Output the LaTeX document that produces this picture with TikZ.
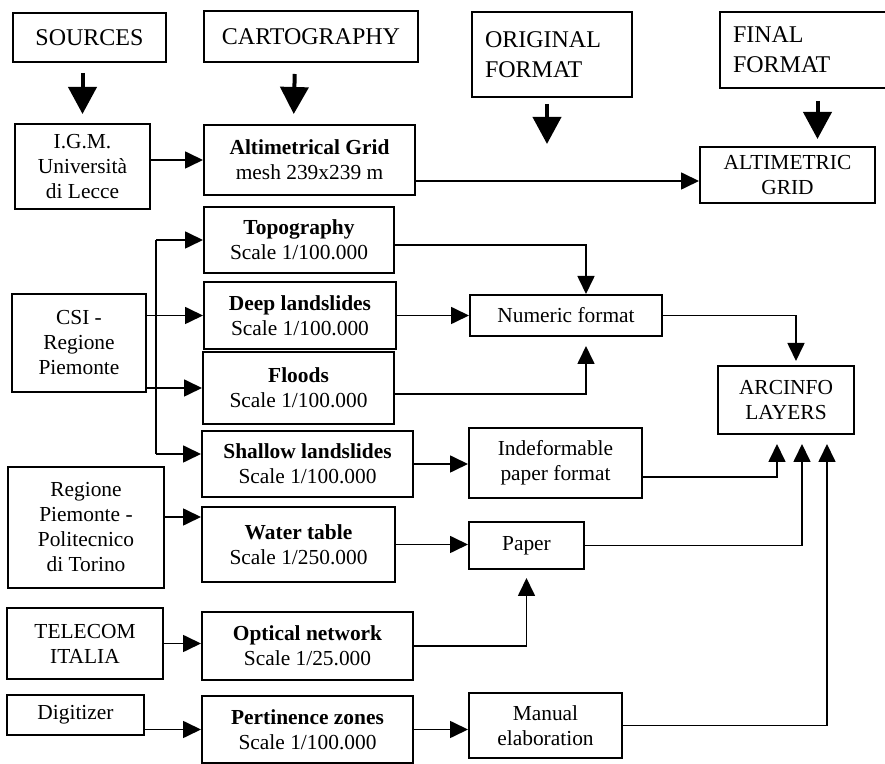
\documentclass[tikz,border=0pt]{standalone}
\usepackage{fontspec}
\setmainfont{Liberation Serif}
\usetikzlibrary{positioning,arrows.meta}
\tikzset{
    flow box/.style={
        rectangle,
        draw,
        line width=1pt,
        inner sep=0pt,
        align=center,
        font=\fontsize{10.7}{12.5}\selectfont,
    },
    head box/.style={flow box, font=\fontsize{12}{15}\selectfont},
    head box left/.style={head box, align=left, inner xsep=6.5pt, text width=#1},
    box size/.style 2 args={minimum width=#1*0.5pt, minimum height=#2*0.5pt},
    flow/.style={line width=0.85pt, -{Triangle[length=9pt,width=8.5pt]}},
    fat flow/.style={line width=2pt, -{Triangle[length=13.5pt,width=14pt]}}
}

\begin{document}
\begin{tikzpicture}[x=0.5pt, y=-0.5pt]
\useasboundingbox (0,0) rectangle (885,764);

%Column headers
\node[head box, box size={153}{49}] (sources) at (89.5,37.5) {SOURCES};
\node[head box, box size={214}{51}] (carto) at (311,36.5) {CARTOGRAPHY};
\node[head box left=67pt, box size={160}{85}] (orig) at (552,54.5) {ORIGINAL\\FORMAT};
\node[head box left=72.5pt, box size={169}{76}] (final) at (805.5,50) {FINAL\\FORMAT};

%Sources
\node[flow box, box size={135}{85}] (igm) at (82.5,166.5) {I.G.M.\\Università\\di Lecce};
\node[flow box, box size={134}{98}] (csi) at (79,343) {CSI -\\Regione\\Piemonte};
\node[flow box, box size={156}{121}] (regione) at (86,527.5) {Regione\\Piemonte -\\Politecnico\\di Torino};
\node[flow box, box size={156}{71}] (telecom) at (85,643.5) {TELECOM\\ITALIA};
\node[flow box, box size={137}{40}] (digit) at (75.5,715) {Digitizer};

%Cartography
\node[flow box, box size={211}{70}] (altgrid) at (309.5,160) {\textbf{Altimetrical Grid}\\mesh 239x239 m};
\node[flow box, box size={190}{66}] (topo) at (299,240) {\textbf{Topography}\\Scale 1/100.000};
\node[flow box, box size={192}{67}] (deep) at (300,315.5) {\textbf{Deep landslides}\\Scale 1/100.000};
\node[flow box, box size={191}{72}] (floods) at (298.5,388) {\textbf{Floods}\\Scale 1/100.000};
\node[flow box, box size={211}{66}] (shallow) at (307.5,464) {\textbf{Shallow landslides}\\Scale 1/100.000};
\node[flow box, box size={193}{75}] (water) at (298.5,544.5) {\textbf{Water table}\\Scale 1/250.000};
\node[flow box, box size={211}{68}] (optical) at (307.5,646) {\textbf{Optical network}\\Scale 1/25.000};
\node[flow box, box size={211}{67}] (pert) at (307.5,729.5) {\textbf{Pertinence zones}\\Scale 1/100.000};

%Formats
\node[flow box, box size={192}{41}] (numeric) at (566,315.5) {Numeric format};
\node[flow box, box size={173}{70}] (indef) at (555.5,463) {Indeformable\\paper format};
\node[flow box, box size={115}{47}] (paper) at (526.5,545.5) {Paper};
\node[flow box, box size={153}{65}] (manual) at (545.5,725.5) {Manual\\elaboration};
\node[flow box, box size={175}{56}] (altimetric) at (787.5,175) {ALTIMETRIC\\GRID};
\node[flow box, box size={136}{68}] (arcinfo) at (786,400) {ARCINFO\\LAYERS};

%Header arrows
\draw[fat flow, shorten <=5pt, shorten >=4.5pt] (sources.south -| igm.north) -- (igm.north);
\draw[fat flow, shorten <=5.5pt, shorten >=5pt] ([xshift=-8pt]carto.south) -- ([xshift=-8pt]altgrid.north);
\coordinate (orig-tip) at ([xshift=-2.5pt,yshift=-23pt]orig.south);
\draw[fat flow, shorten <=3pt] (orig.south -| orig-tip) -- (orig-tip);
\coordinate (final-in) at ([xshift=15pt]altimetric.north);
\draw[fat flow, shorten <=6pt, shorten >=3.5pt] (final.south -| final-in) -- (final-in);

%Sources to cartography
\draw[flow] (igm.east |- altgrid.west) -- (altgrid.west);
\coordinate (trunk) at ([xshift=4.5pt]csi.east);
\coordinate (shallow-in) at ([yshift=5pt]shallow.west);
\draw[line width=0.85pt] (trunk |- topo.west) -- (trunk |- shallow-in);
\draw[flow] (trunk |- topo.west) -- (topo.west);
\draw[flow] (csi.east |- deep.west) -- (deep.west);
\draw[flow] (csi.east |- floods.west) -- (floods.west);
\draw[flow] (trunk |- shallow-in) -- (shallow-in);
\coordinate (water-in) at ([yshift=-5.5pt]water.north west);
\draw[flow] (regione.east |- water-in) -- (water-in);
\draw[flow] (telecom.east) -- (optical.west |- telecom.east);
\draw[flow] (digit.east |- pert.west) -- (pert.west);

%Cartography to formats
\coordinate (alt-in) at ([yshift=-3pt]altimetric.west);
\draw[flow] (altgrid.east |- alt-in) -- (alt-in);
\coordinate (num-top) at ([xshift=10pt]numeric.north);
\coordinate (num-bot) at ([xshift=10pt]numeric.south);
\draw[flow] ([yshift=-2.5pt]topo.east) -| (num-top);
\draw[flow] (deep.east) -- (numeric.west |- deep.east);
\draw[flow, shorten >=4.5pt] ([yshift=-3pt]floods.east) -| (num-bot);
\draw[flow] (shallow.east) -- (indef.west |- shallow.east);
\draw[flow] (water.east) -- (paper.west |- water.east);
\draw[flow, shorten >=4pt] (optical.east) -| (paper.south);
\draw[flow] (pert.east) -- (manual.west |- pert.east);

%Formats to layers
\coordinate (arc-top) at ([xshift=5pt]arcinfo.north);
\coordinate (arc-in-a) at ([xshift=-4.5pt]arcinfo.south);
\coordinate (arc-in-b) at ([xshift=8pt]arcinfo.south);
\coordinate (arc-in-c) at ([xshift=20.5pt]arcinfo.south);
\draw[flow, shorten >=2pt] (numeric.east) -| (arc-top);
\draw[flow, shorten >=4.5pt] ([yshift=-7pt]indef.east) -| (arc-in-a);
\draw[flow, shorten >=4.5pt] (paper.east) -| (arc-in-b);
\draw[flow, shorten >=4.5pt] (manual.east) -| (arc-in-c);

\end{tikzpicture}
\end{document}
